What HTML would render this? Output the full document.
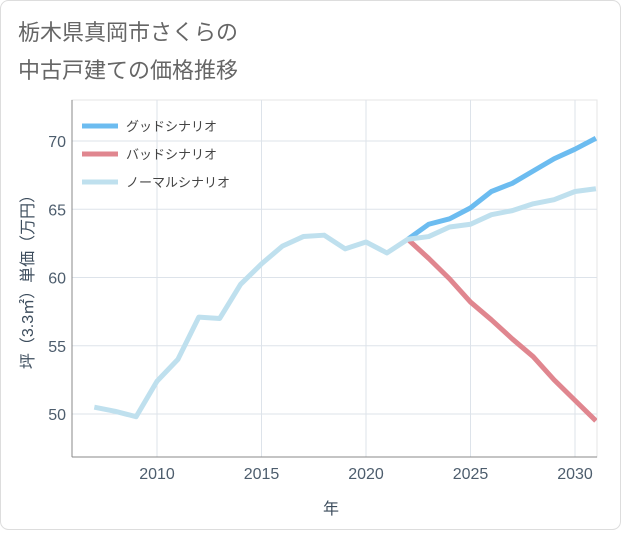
<!DOCTYPE html>
<html><head><meta charset="utf-8"><style>
body{margin:0;background:#fff;font-family:"Liberation Sans","Noto Sans CJK JP",sans-serif}
#wrap{position:relative;width:621px;height:530px}
</style></head><body>
<div id="wrap">
<svg id="svg" width="621" height="530" xmlns="http://www.w3.org/2000/svg">
<rect x="0.5" y="0.5" width="620" height="529" rx="8" fill="#fff" stroke="#ddd"/>
<text x="18" y="40" font-size="22" fill="#666">栃木県真岡市さくらの</text>
<text x="18" y="78" font-size="22" fill="#666">中古戸建ての価格推移</text>
<g id="grid"></g><g id="series"></g>
<text x="331" y="514" font-size="16" fill="#3d4d5d" text-anchor="middle">年</text>
<text transform="translate(33,278) rotate(-90)" font-size="16" fill="#3d4d5d" text-anchor="middle">坪（3.3㎡）単価（万円）</text>
<g id="legend"></g>
</svg></div>
<script>
const years=[2007,2008,2009,2010,2011,2012,2013,2014,2015,2016,2017,2018,2019,2020,2021,2022,2023,2024,2025,2026,2027,2028,2029,2030,2031];
const normal=[50.5,50.2,49.8,52.4,54,57.1,57,59.5,61,62.3,63,63.1,62.1,62.6,61.8,62.8,63.0,63.7,63.9,64.6,64.9,65.4,65.7,66.3,66.5];
const futureYears=[2022,2023,2024,2025,2026,2027,2028,2029,2030,2031];
const good=[62.8,63.9,64.3,65.1,66.3,66.9,67.8,68.7,69.4,70.2];
const bad=[62.8,61.4,59.9,58.2,56.9,55.5,54.2,52.5,51.0,49.5];
const xTicks=[2010,2015,2020,2025,2030];
const yTicks=[50,55,60,65,70];
const legendLabels=["グッドシナリオ","バッドシナリオ","ノーマルシナリオ"];
const NS="http://www.w3.org/2000/svg";
const L=72,R=597,T=100,B=457;
const x=v=>157+(v-2010)*20.9;
const y=v=>414-(v-50)*13.65;
function mk(t,a,p){const e=document.createElementNS(NS,t);for(const k in a)e.setAttribute(k,a[k]);p.appendChild(e);return e;}
const g=document.getElementById('grid');
mk('rect',{x:L,y:T,width:R-L,height:B-T,fill:'none',stroke:'#e5e5e5'},g);
xTicks.forEach(v=>{const l=mk('line',{x1:x(v),x2:x(v),y1:T,y2:B,stroke:'#dde3ea'},g);


const t=mk('text',{x:x(v),y:479,'font-size':16,fill:'#4d5d6d','text-anchor':'middle'},g);t.textContent=v;

});
yTicks.forEach(v=>{const l=mk('line',{x1:L,x2:R,y1:y(v),y2:y(v),stroke:'#dde3ea'},g);


const t=mk('text',{x:66,y:y(v)+6,'font-size':16,fill:'#4d5d6d','text-anchor':'end'},g);t.textContent=v;

});
mk('line',{x1:L,x2:L,y1:T,y2:B,stroke:'#888'},g);
mk('line',{x1:L,x2:R,y1:B,y2:B,stroke:'#888'},g);
const s=document.getElementById('series');
const cp=mk('clipPath',{id:'c'},s);mk('rect',{x:L,y:T,width:R-L,height:B-T},cp);
function line(xs,ys,c,n){const p=mk('polyline',{points:xs.map((v,i)=>x(v)+','+y(ys[i])).join(' '),fill:'none',stroke:c,'stroke-width':5,'stroke-linejoin':'round','clip-path':'url(#c)'},s);

}
line(futureYears,bad,'#e0868f','bad-scenario-line');
line(futureYears,good,'#6cbcf0','good-scenario-line');
line(years,normal,'#bfe0ee','normal-scenario-line');
const lg=document.getElementById('legend');
const cols=['#6cbcf0','#e0868f','#bfe0ee'];
legendLabels.forEach((t,i)=>{const yy=126+i*28;
const l=mk('line',{x1:82,x2:118,y1:yy,y2:yy,stroke:cols[i],'stroke-width':5},lg);


const tx=mk('text',{x:126,y:yy+5,'font-size':13,fill:'#444'},lg);tx.textContent=t;

});
</script>
</body></html>
